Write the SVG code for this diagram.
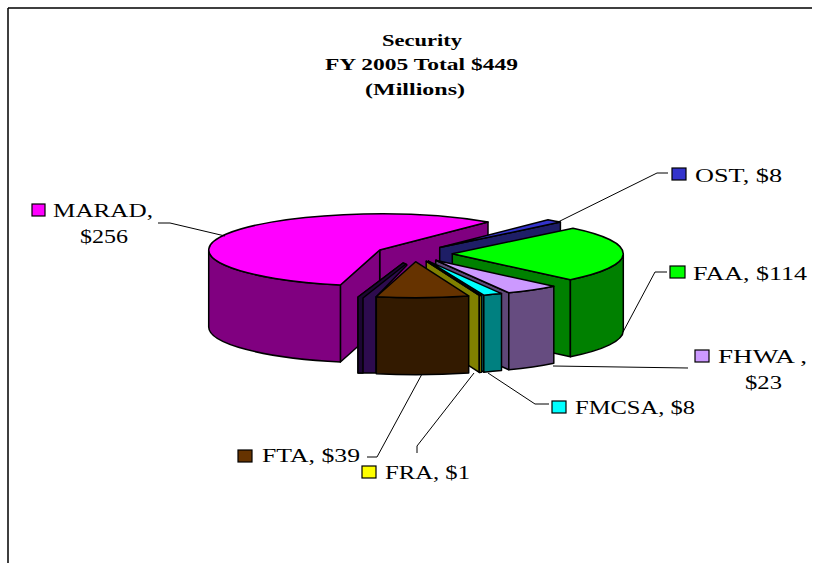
<svg xmlns="http://www.w3.org/2000/svg" width="817" height="563" viewBox="0 0 817 563">
<style>
  .ol{stroke:#000;stroke-width:1.5;stroke-linejoin:round}
  .lead{stroke:#000;stroke-width:1;fill:none}
  .lbl{font-family:"Liberation Serif","Times New Roman",serif;font-size:18.5px;fill:#000}
  .ttl{font-family:"Liberation Serif","Times New Roman",serif;font-size:17px;font-weight:bold;fill:#000}
  .sq{stroke:#000;stroke-width:1.2}
</style>
<rect width="817" height="563" fill="#fff"/>
<path d="M8,8 H812 M8,8 V563" stroke="#000" stroke-width="1.5" fill="none"/>

<g id="title">
  <text class="ttl" x="382" y="46" textLength="80" lengthAdjust="spacingAndGlyphs">Security</text>
  <text class="ttl" x="325" y="70" textLength="193" lengthAdjust="spacingAndGlyphs">FY 2005 Total $449</text>
  <text class="ttl" x="365" y="95" textLength="100" lengthAdjust="spacingAndGlyphs">(Millions)</text>
</g>

<g id="slice-marad">
  <polygon class="ol" fill="#800080" points="379.7,250 488,222.1 488,299.1 379.7,327"/>
  <polygon class="ol" fill="#800080" points="379.7,250 340.4,285 340.4,362 379.7,327"/>
  <path class="ol" fill="#800080" d="M340.4,285 A171,36 0 0 1 208.7,250 L208.7,327 A171,36 0 0 0 340.4,362 Z"/>
  <path class="ol" fill="#FF00FF" d="M379.7,250 L340.4,285 A171,36 0 1 1 488,222.1 Z"/>
</g>

<g id="slice-ost">
  <polygon class="ol" fill="#1E1E66" points="439.7,247.6 560.4,222.1 560.4,299.1 439.7,324.6"/>
  <path class="ol" fill="#3333CC" d="M439.7,247.6 L548,219.7 A171,36 0 0 1 560.4,222.1 Z"/>
</g>

<g id="slice-faa">
  <polygon class="ol" fill="#008000" points="452.3,253.7 570.4,279.7 570.4,356.7 452.3,330.7"/>
  <path class="ol" fill="#008000" d="M623.3,253.7 A171,36 0 0 1 570.4,279.7 L570.4,356.7 A171,36 0 0 0 623.3,330.7 Z"/>
  <path class="ol" fill="#00FF00" d="M452.3,253.7 L573,228.2 A171,36 0 0 1 570.4,279.7 Z"/>
</g>

<g id="slice-fhwa">
  <polygon class="ol" fill="#5E4778" points="435.7,260.3 508.8,292.8 508.8,369.8 435.7,337.3"/>
  <path class="ol" fill="#664C80" d="M553.8,286.3 A171,36 0 0 1 508.8,292.8 L508.8,369.8 A171,36 0 0 0 553.8,363.3 Z"/>
  <path class="ol" fill="#CC99FF" d="M435.7,260.3 L553.8,286.3 A171,36 0 0 1 508.8,292.8 Z"/>
</g>

<g id="slice-fmcsa">
  <polygon class="ol" fill="#006666" points="428.4,261.1 483.8,295.2 483.8,372.2 428.4,338.1"/>
  <path class="ol" fill="#008080" d="M501.5,293.6 A171,36 0 0 1 483.8,295.2 L483.8,372.2 A171,36 0 0 0 501.5,370.6 Z"/>
  <path class="ol" fill="#00FFFF" d="M428.4,261.1 L501.5,293.6 A171,36 0 0 1 483.8,295.2 Z"/>
</g>

<g id="slice-fra">
  <polygon class="ol" fill="#808000" points="426.2,261.2 479.3,295.4 479.3,372.4 426.2,338.2"/>
  <polygon class="ol" fill="#808000" points="481.6,295.3 479.3,295.4 479.3,372.4 481.6,372.3"/>
  <polygon class="ol" fill="#FFFF00" points="426.2,261.2 481.6,295.3 479.3,295.4"/>
</g>

<g id="slice-sliver">
  <polygon class="ol" fill="#2D0B4E" points="403,263 407,265 376,297 376,373 358,373 358,297"/>
  <polygon class="ol" fill="#1C0533" points="358,297 403,263 406,264 363,298 363,373 358,373"/>
</g>

<g id="slice-fta">
  <path class="ol" fill="#331A00" d="M468.7,295.9 A171,36 0 0 1 376.3,296.7 L376.3,373.7 A171,36 0 0 0 468.7,372.9 Z"/>
  <path class="ol" fill="#663300" d="M415.6,261.7 L468.7,295.9 A171,36 0 0 1 376.3,296.7 Z"/>
</g>

<g id="connectors">
  <polyline class="lead" points="158,223 170,223 225,236"/>
  <polyline class="lead" points="668,173 657,173 556,223"/>
  <polyline class="lead" points="667,272 655,272 623,332"/>
  <polyline class="lead" points="553,366 688,368"/>
  <polyline class="lead" points="549,404 535,404 488,373"/>
  <polyline class="lead" points="417,453 417,446 474,373"/>
  <polyline class="lead" points="367,457 377,457 422,374"/>
</g>

<g id="label-marad">
  <rect class="sq" x="32" y="204" width="13" height="12" fill="#FF00FF"/>
  <text class="lbl" x="53" y="217" textLength="100" lengthAdjust="spacingAndGlyphs">MARAD,</text>
  <text class="lbl" x="80" y="243" textLength="48" lengthAdjust="spacingAndGlyphs">$256</text>
</g>
<g id="label-ost">
  <rect class="sq" x="672" y="168" width="14" height="12" fill="#3333CC"/>
  <text class="lbl" x="695" y="182" textLength="87" lengthAdjust="spacingAndGlyphs">OST, $8</text>
</g>
<g id="label-faa">
  <rect class="sq" x="670" y="266" width="15" height="12" fill="#00FF00"/>
  <text class="lbl" x="693" y="280" textLength="114" lengthAdjust="spacingAndGlyphs">FAA, $114</text>
</g>
<g id="label-fhwa">
  <rect class="sq" x="695" y="350" width="14" height="12" fill="#CC99FF"/>
  <text class="lbl" x="718" y="363" textLength="89" lengthAdjust="spacingAndGlyphs">FHWA ,</text>
  <text class="lbl" x="745" y="389" textLength="37" lengthAdjust="spacingAndGlyphs">$23</text>
</g>
<g id="label-fmcsa">
  <rect class="sq" x="552" y="401" width="14" height="12" fill="#00FFFF"/>
  <text class="lbl" x="575" y="414" textLength="120" lengthAdjust="spacingAndGlyphs">FMCSA, $8</text>
</g>
<g id="label-fra">
  <rect class="sq" x="362" y="466" width="14" height="12" fill="#FFFF00"/>
  <text class="lbl" x="385" y="479" textLength="85" lengthAdjust="spacingAndGlyphs">FRA, $1</text>
</g>
<g id="label-fta">
  <rect class="sq" x="238" y="450" width="14" height="12" fill="#663300"/>
  <text class="lbl" x="262" y="462" textLength="98" lengthAdjust="spacingAndGlyphs">FTA, $39</text>
</g>
</svg>
